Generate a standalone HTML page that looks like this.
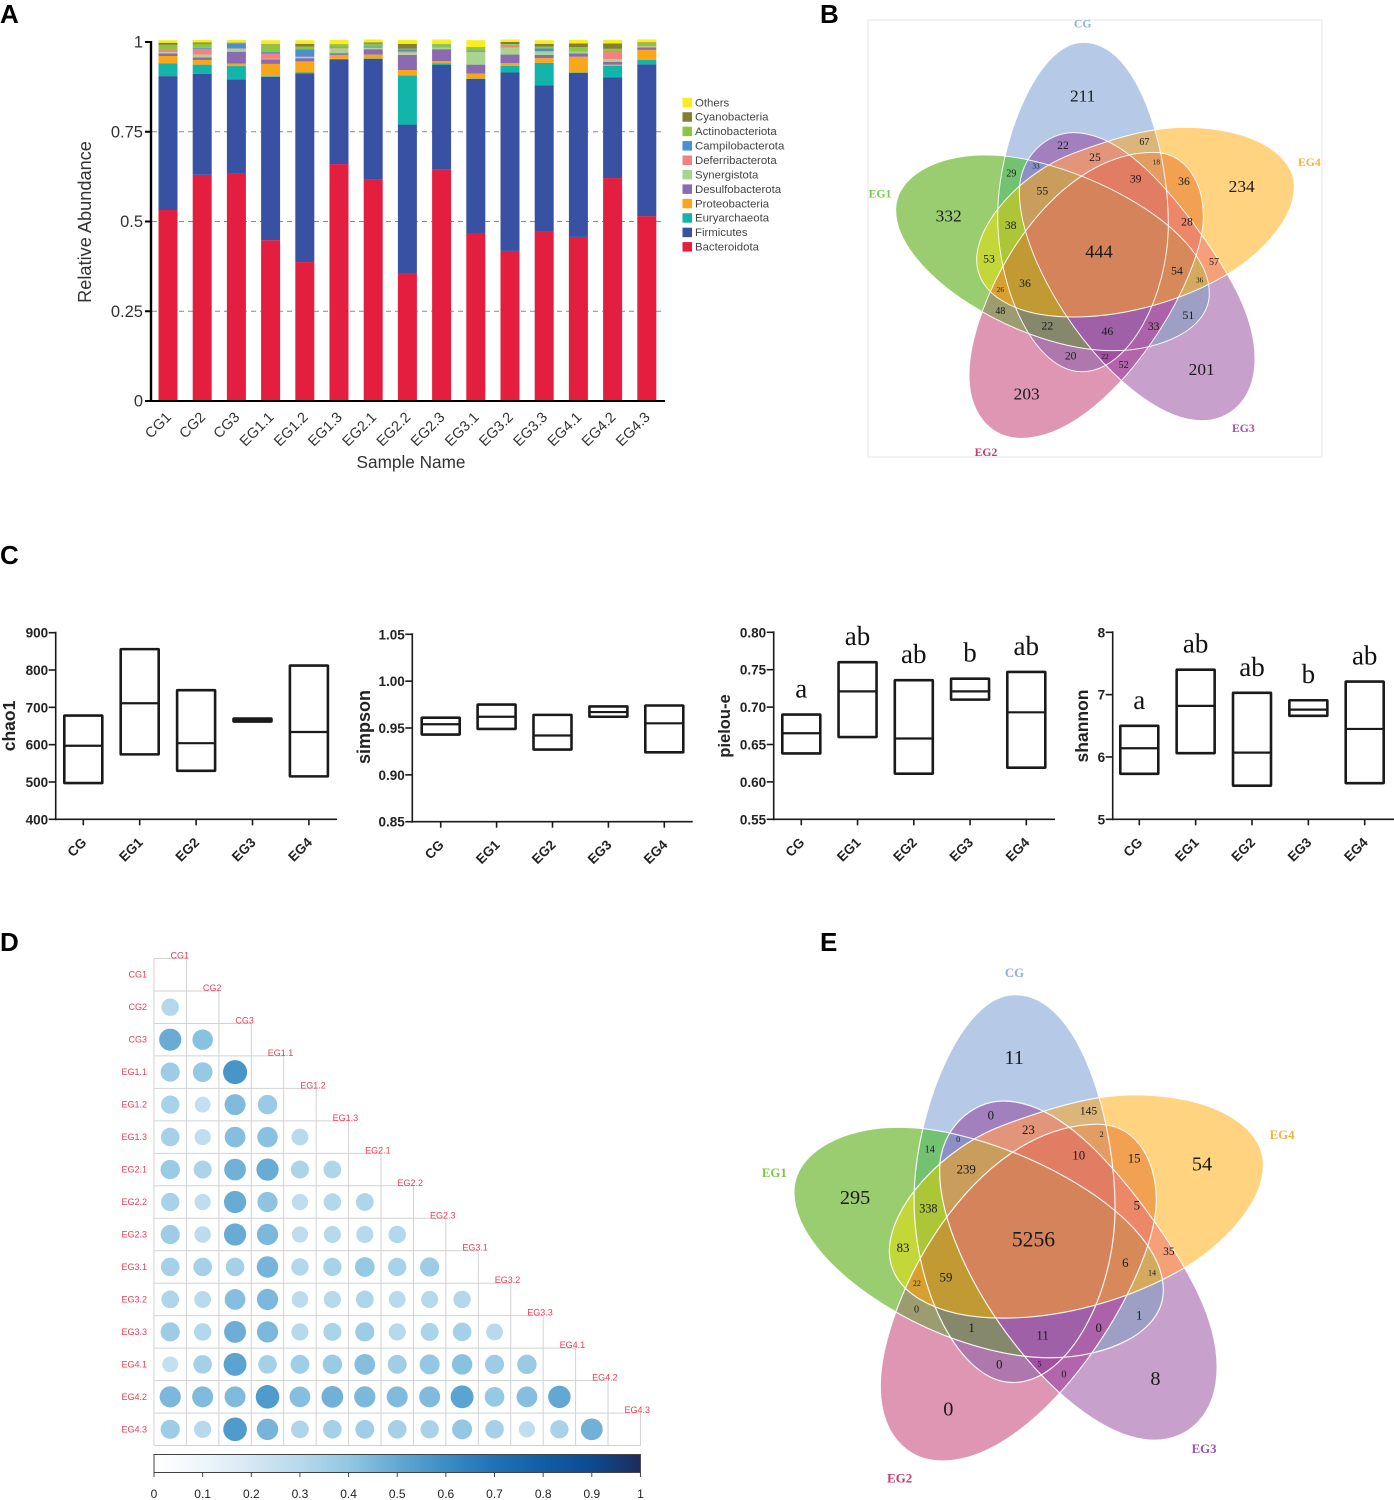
<!DOCTYPE html>
<html lang="en">
<head>
<meta charset="utf-8">
<title>Microbial community figure</title>
<style>
html,body{margin:0;padding:0;background:#fff;}
#figure{position:absolute;left:0;top:0;display:block;}
text{font-family:"Liberation Sans",sans-serif;}
.venn text{font-family:"Liberation Serif",serif;text-anchor:middle;dominant-baseline:central;fill:#1a1a1a;}
.venn .name{font-weight:bold;}
.letter{font-family:"Liberation Sans",sans-serif;font-weight:bold;font-size:26px;fill:#000;}
</style>
</head>
<body>
<svg id="figure" xmlns="http://www.w3.org/2000/svg" width="1394" height="1500" viewBox="0 0 1394 1500">
  <defs id="defs">
    <linearGradient id="blues" x1="0" x2="1" y1="0" y2="0">
      <stop offset="0" stop-color="#ffffff"/><stop offset=".1" stop-color="#eef6fc"/><stop offset=".2" stop-color="#d6e7f5"/>
      <stop offset=".3" stop-color="#b6d9ec"/><stop offset=".4" stop-color="#93c7e3"/><stop offset=".5" stop-color="#63a8d3"/>
      <stop offset=".6" stop-color="#3b8dc5"/><stop offset=".7" stop-color="#2171b5"/><stop offset=".8" stop-color="#125ea6"/>
      <stop offset=".9" stop-color="#0d4a90"/><stop offset="1" stop-color="#1d2c5c"/>
    </linearGradient>
  </defs>

  <text class="letter" x="0" y="23">A</text>
  <text class="letter" x="820" y="23">B</text>
  <text class="letter" x="0" y="564">C</text>
  <text class="letter" x="0" y="951">D</text>
  <text class="letter" x="820" y="951">E</text>

  <g id="panelA"></g>
  <g id="panelC"></g>
  <g id="panelD"></g>

  <rect x="868" y="20" width="454" height="437" fill="none" stroke="#e6e6e6" stroke-width="1"/>

  <g class="venn" transform="translate(860 10) scale(0.33333)">
    <g id="vennShapesB"></g>
    <text class="name" x="668" y="42" font-size="35" style="fill:#8fb0e0">CG</text>
    <text class="name" x="60" y="552" font-size="35" style="fill:#7ac943">EG1</text>
    <text class="name" x="1348" y="457" font-size="35" style="fill:#fbb040">EG4</text>
    <text class="name" x="1150" y="1255" font-size="35" style="fill:#a050b0">EG3</text>
    <text class="name" x="378" y="1328" font-size="35" style="fill:#c8386e">EG2</text>
    <g>
      <text x="668" y="258" font-size="52">211</text>
      <text x="266" y="618" font-size="52">332</text>
      <text x="1145" y="530" font-size="52">234</text>
      <text x="1025" y="1078" font-size="52">201</text>
      <text x="500" y="1152" font-size="52">203</text>
      <text x="717" y="725" font-size="55">444</text>
      <text x="609" y="407" font-size="35">22</text>
      <text x="853" y="397" font-size="30">67</text>
      <text x="528" y="468" font-size="22">33</text>
      <text x="705" y="443" font-size="35">25</text>
      <text x="889" y="456" font-size="22">18</text>
      <text x="827" y="507" font-size="35">39</text>
      <text x="972" y="514" font-size="35">36</text>
      <text x="454" y="492" font-size="30">29</text>
      <text x="547" y="543" font-size="35">55</text>
      <text x="452" y="647" font-size="35">38</text>
      <text x="981" y="636" font-size="35">28</text>
      <text x="387" y="747" font-size="35">53</text>
      <text x="1062" y="757" font-size="30">57</text>
      <text x="951" y="783" font-size="35">54</text>
      <text x="1019" y="810" font-size="22">36</text>
      <text x="421" y="838" font-size="22">26</text>
      <text x="495" y="821" font-size="35">36</text>
      <text x="421" y="904" font-size="30">48</text>
      <text x="562" y="948" font-size="35">22</text>
      <text x="742" y="965" font-size="35">46</text>
      <text x="881" y="950" font-size="35">33</text>
      <text x="985" y="917" font-size="35">51</text>
      <text x="632" y="1038" font-size="35">20</text>
      <text x="735" y="1040" font-size="22">22</text>
      <text x="791" y="1067" font-size="30">52</text>
    </g>
  </g>

  <g class="venn" transform="translate(750 960) scale(0.33784)">
    <g id="vennShapesE" transform="translate(5.7 -10.2) scale(1.162)"></g>
    <text class="name" x="783" y="38" font-size="38" style="fill:#8fb0e0">CG</text>
    <text class="name" x="72" y="630" font-size="38" style="fill:#7ac943">EG1</text>
    <text class="name" x="1575" y="518" font-size="38" style="fill:#fbb040">EG4</text>
    <text class="name" x="1344" y="1447" font-size="38" style="fill:#a050b0">EG3</text>
    <text class="name" x="443" y="1535" font-size="38" style="fill:#c8386e">EG2</text>
    <g>
      <text x="782" y="290" font-size="60">11</text>
      <text x="1338" y="605" font-size="60">54</text>
      <text x="311" y="705" font-size="60">295</text>
      <text x="587" y="1330" font-size="60">0</text>
      <text x="1200" y="1240" font-size="60">8</text>
      <text x="839" y="828" font-size="64">5256</text>
      <text x="713" y="460" font-size="38">0</text>
      <text x="1002" y="449" font-size="34">145</text>
      <text x="616" y="532" font-size="24">0</text>
      <text x="824" y="503" font-size="38">23</text>
      <text x="1041" y="517" font-size="24">2</text>
      <text x="532" y="562" font-size="30">14</text>
      <text x="973" y="578" font-size="38">10</text>
      <text x="1137" y="587" font-size="38">15</text>
      <text x="640" y="620" font-size="38">239</text>
      <text x="528" y="735" font-size="36">338</text>
      <text x="1145" y="726" font-size="38">5</text>
      <text x="453" y="852" font-size="38">83</text>
      <text x="1240" y="865" font-size="34">35</text>
      <text x="1111" y="897" font-size="38">6</text>
      <text x="1190" y="927" font-size="24">14</text>
      <text x="494" y="958" font-size="24">22</text>
      <text x="580" y="940" font-size="38">59</text>
      <text x="493" y="1036" font-size="30">0</text>
      <text x="656" y="1090" font-size="38">1</text>
      <text x="866" y="1112" font-size="38">11</text>
      <text x="1032" y="1090" font-size="38">0</text>
      <text x="1152" y="1052" font-size="38">1</text>
      <text x="738" y="1197" font-size="38">0</text>
      <text x="857" y="1196" font-size="24">5</text>
      <text x="929" y="1228" font-size="30">0</text>
    </g>
  </g>
</svg>

<script>
// ---------- Panel A data (percent of reads) ----------
const sampleNames = ['CG1','CG2','CG3','EG1.1','EG1.2','EG1.3','EG2.1','EG2.2','EG2.3','EG3.1','EG3.2','EG3.3','EG4.1','EG4.2','EG4.3'];
const phylumNames = ['Bacteroidota','Firmicutes','Euryarchaeota','Proteobacteria','Desulfobacterota','Synergistota','Deferribacterota','Campilobacterota','Actinobacteriota','Cyanobacteria','Others'];
const phylumColors = ['#e31e3f','#3851a3','#13b5ab','#faa61a','#8a6bb1','#a8d58e','#f58080','#4a90d0','#8cc63f','#808033','#f7ee1f'];
const bacteroidota = [53.2,63.0,63.5,44.8,38.7,66.0,61.6,35.4,64.6,46.8,41.8,47.1,45.7,62.1,51.5];
const firmicutes = [37.3,28.1,26.1,45.5,52.6,29.2,33.7,41.6,29.0,42.9,49.7,40.8,45.7,28.1,42.3];
const euryarchaeota = [3.6,2.6,3.7,0.2,0.2,0.1,0.1,13.7,0.5,0.1,1.9,6.3,0.1,3.2,1.2];
const proteobacteria = [2.0,1.3,0.7,3.4,3.1,1.1,1.1,1.5,0.6,1.4,0.7,1.3,4.4,0.3,2.8];
const desulfobacterota = [0.7,0.7,3.3,1.3,0.9,0.5,1.5,4.2,3.3,2.5,2.4,0.9,0.9,0.8,0.7];
const synergistota = [0.4,0.8,0.8,0.1,0.3,1.3,0.3,0.7,0.4,3.5,1.9,0.9,0.5,0.7,0.3];
const deferribacterota = [0.7,1.6,0.1,1.4,0.1,0.1,0.2,0.2,0.2,0.1,0.7,0.1,0.1,2.2,0.1];
const campilobacterota = [0.1,0.3,1.4,0.5,2.1,0.2,0.3,0.7,0.1,0.3,0.1,0.8,0.1,0.1,0.1];
const actinobacteriota = [1.2,1.1,0.2,2.0,0.7,0.8,0.7,0.1,0.7,0.7,0.2,0.5,1.1,0.6,0.7];
const cyanobacteria = [0.6,0.4,0.1,0.2,0.8,0.1,0.4,1.4,0.1,0.2,0.6,0.8,1.0,1.5,0.2];
const others = [0.7,0.7,0.7,1.1,1.0,1.2,0.8,1.1,1.2,2.0,0.7,1.0,1.0,1.0,0.8];
const phylumValues = [bacteroidota,firmicutes,euryarchaeota,proteobacteria,desulfobacterota,synergistota,deferribacterota,campilobacterota,actinobacteriota,cyanobacteria,others];
const abundanceTicks = [0,0.25,0.5,0.75,1];

// ---------- Panel C data ----------
const groupNames = ['CG','EG1','EG2','EG3','EG4'];
const chaoTicks = [400,500,600,700,800,900];
const chaoLow = [497,574,530,662,515];
const chaoMedian = [597,711,604,666,634];
const chaoHigh = [678,856,746,670,812];
const simpsonTicks = [0.85,0.90,0.95,1.00,1.05];
const simpsonLow = [0.943,0.949,0.927,0.962,0.924];
const simpsonMedian = [0.954,0.962,0.942,0.967,0.955];
const simpsonHigh = [0.961,0.975,0.964,0.973,0.974];
const pielouTicks = [0.55,0.60,0.65,0.70,0.75,0.80];
const pielouLow = [0.638,0.660,0.611,0.710,0.619];
const pielouMedian = [0.665,0.721,0.658,0.721,0.693];
const pielouHigh = [0.690,0.760,0.736,0.738,0.747];
const shannonTicks = [5,6,7,8];
const shannonLow = [5.73,6.06,5.54,6.66,5.58];
const shannonMedian = [6.14,6.82,6.07,6.76,6.45];
const shannonHigh = [6.50,7.40,7.03,6.91,7.21];
const significanceLetters = ['a','ab','ab','b','ab'];

// ---------- Panel D data (lower triangle, row by row) ----------
const corrLabels = ['CG1','CG2','CG3','EG1.1','EG1.2','EG1.3','EG2.1','EG2.2','EG2.3','EG3.1','EG3.2','EG3.3','EG4.1','EG4.2','EG4.3'];
const corrValues = [
  [],
  [.29],
  [.47,.40],
  [.35,.37,.55],
  [.32,.24,.42,.36],
  [.33,.25,.41,.40,.27],
  [.36,.31,.45,.47,.31,.30],
  [.32,.25,.47,.39,.25,.29,.30],
  [.35,.26,.47,.43,.25,.28,.28,.29],
  [.33,.33,.33,.44,.29,.32,.37,.32,.35],
  [.30,.27,.41,.43,.26,.28,.30,.27,.28,.29],
  [.35,.29,.46,.43,.28,.31,.35,.28,.31,.33,.27],
  [.24,.33,.50,.33,.34,.36,.41,.34,.38,.40,.35,.36],
  [.43,.42,.42,.53,.41,.45,.43,.42,.42,.50,.37,.41,.48],
  [.35,.28,.53,.44,.30,.33,.34,.33,.32,.38,.33,.25,.32,.45]
];
const colorbarTicks = [0,0.1,0.2,0.3,0.4,0.5,0.6,0.7,0.8,0.9,1];
const bluesPalette = ['#ffffff','#eef6fc','#d6e7f5','#b6d9ec','#93c7e3','#63a8d3','#3b8dc5','#2171b5','#125ea6','#0d4a90','#1d2c5c'];

// ---------- Venn region membership and fills (shared by panels B and E) ----------
const vennSets = ['CG','EG1','EG2','EG3','EG4'];
const vennRegions = [
  ['CG','#b6c9e7'],['EG1','#9acd70'],['EG2','#de96b2'],['EG3','#c8a0cc'],['EG4','#ffd37f'],
  ['CG EG1','#72c272'],['CG EG2','#ae78ad'],['CG EG3','#a180bd'],['CG EG4','#dcb57a'],
  ['EG1 EG2','#9c9c70'],['EG1 EG3','#9da0c4'],['EG1 EG4','#c3d838'],
  ['EG2 EG3','#b365ab'],['EG2 EG4','#f2a153'],['EG3 EG4','#f5a078'],
  ['CG EG1 EG2','#85886a'],['CG EG1 EG3','#8c90c4'],['CG EG1 EG4','#adc638'],
  ['CG EG2 EG3','#a14fa0'],['CG EG2 EG4','#e39d62'],['CG EG3 EG4','#e2957a'],
  ['EG1 EG2 EG3','#ab62a8'],['EG1 EG2 EG4','#d8a030'],['EG1 EG3 EG4','#d3aa5e'],['EG2 EG3 EG4','#ec8768'],
  ['CG EG1 EG2 EG3','#9f60a8'],['CG EG1 EG2 EG4','#c29a33'],['CG EG1 EG3 EG4','#c99d5c'],
  ['CG EG2 EG3 EG4','#e07d62'],['EG1 EG2 EG3 EG4','#d8895a'],['CG EG1 EG2 EG3 EG4','#d4835a']
];

const NS = 'http://www.w3.org/2000/svg';
function make(parent, tag, attrs, text) {
  const el = document.createElementNS(NS, tag);
  for (const k in attrs) el.setAttribute(k, attrs[k]);
  if (text !== undefined) el.textContent = text;
  parent.appendChild(el);
  return el;
}

// ---------- Venn geometry ----------
const petalOutlines = {
  CG: 'M670,97 C528,97 413,408 413,618 C413,848 528,1085 665,1085 C808,1085 925,858 925,640 C925,430 840,97 670,97 Z',
  EG4: 'M975,352 C1170,352 1303,430 1303,530 C1303,640 1180,745 1115,785 C960,880 780,921 640,921 C460,921 350,850 350,750 C350,640 480,490 640,430 C760,385 870,352 975,352 Z',
  EG1: 'M107,600 C107,500 230,435 370,435 C610,430 1048,640 1048,850 C1048,960 900,1022 760,1022 C480,1022 107,790 107,600 Z',
  EG2: 'M485,1285 C390,1285 327,1210 327,1095 C327,880 560,430 880,427 C980,427 1030,520 1030,620 C1030,820 740,1285 485,1285 Z',
  EG3: 'M640,368 C760,368 880,480 1000,640 C1110,790 1185,920 1185,1045 C1185,1170 1110,1232 1025,1232 C800,1232 478,800 478,545 C478,440 560,368 640,368 Z'
};
const defs = document.getElementById('defs');
vennSets.forEach(name => {
  const clip = make(defs, 'clipPath', {id:'clip-' + name});
  make(clip, 'path', {d:petalOutlines[name]});
});
function buildVenn(groupId) {
  const host = document.getElementById(groupId);
  vennRegions.forEach(region => {
    let parent = host;
    region[0].split(' ').forEach(name => {
      parent = make(parent, 'g', {'clip-path':'url(#clip-' + name + ')'});
    });
    const fill = make(parent, 'rect', {x:0, y:0, width:1500, height:1500, fill:region[1]});
    
    
  });
  vennSets.forEach(name => {
    const outline = make(host, 'path', {d:petalOutlines[name], fill:'none', stroke:'#fff', 'stroke-width':3, 'stroke-opacity':0.92});
    
    
  });
}
buildVenn('vennShapesB');
buildVenn('vennShapesE');

// ---------- Panel A ----------
const panelA = document.getElementById('panelA');
const yAbundance = v => 401 - 359 * v;
const xSample = i => 168 + 34.2 * i;

abundanceTicks.forEach(t => {
  if (t > 0 && t < 1) {
    const grid = make(panelA, 'line', {x1:152, x2:665, y1:yAbundance(t), y2:yAbundance(t), stroke:'#8a8a8a', 'stroke-width':1, 'stroke-dasharray':'5 4'});
    
    
  }
  const tick = make(panelA, 'line', {x1:145, x2:152, y1:yAbundance(t), y2:yAbundance(t), stroke:'#000', 'stroke-width':2});
  
  
  const label = make(panelA, 'text', {x:143, y:yAbundance(t) + 5.5, 'text-anchor':'end', 'font-size':16.5, fill:'#333'}, String(t));
  
  
});

sampleNames.forEach((name, i) => {
  let cumulative = 0;
  phylumValues.forEach((series, s) => {
    const start = cumulative;
    cumulative += series[i] / 100;
    const bar = make(panelA, 'rect', {x:xSample(i) - 9.5, width:19, y:yAbundance(cumulative), height:yAbundance(start) - yAbundance(cumulative), fill:phylumColors[s]});
    
    
  });
  const label = make(panelA, 'text', {'text-anchor':'end', 'font-size':14.5, fill:'#333', transform:'translate(' + (xSample(i) + 4) + ' 418) rotate(-45)'}, name);
  
  
});

const axisAY = make(panelA, 'line', {x1:151, x2:151, y1:41, y2:402, stroke:'#000', 'stroke-width':2.4});


const axisAX = make(panelA, 'line', {x1:150, x2:665, y1:401, y2:401, stroke:'#000', 'stroke-width':2});


const titleAY = make(panelA, 'text', {'text-anchor':'middle', 'font-size':18.2, fill:'#333', transform:'translate(91 222) rotate(-90)'}, 'Relative Abundance');


const titleAX = make(panelA, 'text', {x:411, y:468, 'text-anchor':'middle', 'font-size':17.2, fill:'#333'}, 'Sample Name');



phylumNames.slice().reverse().forEach((name, i) => {
  const y = 102.3 + 14.43 * i;
  const swatch = make(panelA, 'rect', {x:682.5, y:y - 4.5, width:9.5, height:9.5, fill:phylumColors[phylumNames.length - 1 - i]});
  
  
  const label = make(panelA, 'text', {x:695, y:y + 4, 'font-size':11.4, fill:'#444'}, name);
  
  
});

// ---------- Panel C ----------
const panelC = document.getElementById('panelC');
function boxPanel(key, title, ticks, low, median, high, tickFormat, box, letters) {
  const panel = make(panelC, 'g', {});
  
  
  const minV = ticks[0], maxV = ticks[ticks.length - 1];
  const y = v => box.bottom - (v - minV) / (maxV - minV) * (box.bottom - box.top);
  const x = i => box.firstTick + box.tickStep * i;
  const yAxis = make(panel, 'line', {x1:box.left, x2:box.left, y1:box.top - 1, y2:box.bottom + 1, stroke:'#1a1a1a', 'stroke-width':1.6});
  
  
  const xAxis = make(panel, 'line', {x1:box.left, x2:box.right, y1:box.bottom, y2:box.bottom, stroke:'#1a1a1a', 'stroke-width':1.6});
  
  
  ticks.forEach(t => {
    const tick = make(panel, 'line', {x1:box.left - 7, x2:box.left, y1:y(t), y2:y(t), stroke:'#1a1a1a', 'stroke-width':1.6});
    
    
    const label = make(panel, 'text', {x:box.left - 7.5, y:y(t) + 5, 'text-anchor':'end', 'font-size':13.5, 'font-weight':'bold', fill:'#222'}, tickFormat(t));
    
    
  });
  groupNames.forEach((name, i) => {
    const tick = make(panel, 'line', {x1:x(i), x2:x(i), y1:box.bottom, y2:box.bottom + 6, stroke:'#1a1a1a', 'stroke-width':1.6});
    
    
    const label = make(panel, 'text', {'text-anchor':'end', 'font-size':13.5, 'font-weight':'bold', fill:'#222', transform:'translate(' + (x(i) + 4) + ' ' + (box.bottom + 24) + ') rotate(-45)'}, name);
    
    
    const rect = make(panel, 'rect', {x:x(i) - 19, width:38, y:y(high[i]), height:y(low[i]) - y(high[i]), fill:'none', stroke:'#1a1a1a', 'stroke-width':2.6, rx:0.5});
    
    
    const med = make(panel, 'line', {x1:x(i) - 19, x2:x(i) + 19, y1:y(median[i]), y2:y(median[i]), stroke:'#1a1a1a', 'stroke-width':2.2});
    
    
    if (letters) {
      const sig = make(panel, 'text', {x:x(i), y:y(high[i]) - 17, 'text-anchor':'middle', 'font-size':27, fill:'#111', style:'font-family:"Liberation Serif",serif'}, letters[i]);
      
      
    }
  });
  const t = make(panel, 'text', {'text-anchor':'middle', 'font-size':box.titleSize, 'font-weight':'bold', fill:'#222', transform:'translate(' + box.titleX + ' ' + box.titleY + ') rotate(-90)'}, title);
  
  
}
boxPanel('chao1', 'chao1', chaoTicks, chaoLow, chaoMedian, chaoHigh, String,
  {left:55.7, right:337, top:632.7, bottom:819.3, firstTick:83.3, tickStep:56.4, titleX:15, titleY:726, titleSize:17.5});
boxPanel('simpson', 'simpson', simpsonTicks, simpsonLow, simpsonMedian, simpsonHigh, v => v.toFixed(2),
  {left:412.3, right:692.7, top:634.3, bottom:821.7, firstTick:440.7, tickStep:55.9, titleX:370, titleY:727, titleSize:18});
boxPanel('pielou', 'pielou-e', pielouTicks, pielouLow, pielouMedian, pielouHigh, v => v.toFixed(2),
  {left:773.7, right:1055, top:632.3, bottom:819.3, firstTick:801.3, tickStep:56.25, titleX:730, titleY:726, titleSize:16.5}, significanceLetters);
boxPanel('shannon', 'shannon', shannonTicks, shannonLow, shannonMedian, shannonHigh, String,
  {left:1112.7, right:1394, top:632.3, bottom:819.3, firstTick:1139.3, tickStep:56.35, titleX:1088, titleY:726, titleSize:17.5}, significanceLetters);

// ---------- Panel D ----------
const panelD = document.getElementById('panelD');
const cellW = 32.43, cellH = 32.47, gridL = 154, gridT = 958.5;
const xCol = j => gridL + cellW * j;
const yRow = i => gridT + cellH * i;
function blues(v) {
  const p = Math.max(0, Math.min(1, v)) * (bluesPalette.length - 1);
  const a = Math.floor(p), b = Math.min(a + 1, bluesPalette.length - 1), f = p - a;
  const ch = (hex, k) => parseInt(hex.substr(1 + 2 * k, 2), 16);
  return 'rgb(' + [0,1,2].map(k => Math.round(ch(bluesPalette[a], k) * (1 - f) + ch(bluesPalette[b], k) * f)).join(',') + ')';
}
const n = corrLabels.length;
for (let i = 0; i <= n; i++) {
  const h = make(panelD, 'line', {x1:gridL, x2:xCol(Math.min(i + 1, n)), y1:yRow(i), y2:yRow(i), stroke:'#d2d2d2', 'stroke-width':1});
  
  
  const v = make(panelD, 'line', {x1:xCol(i), x2:xCol(i), y1:yRow(Math.max(i - 1, 0)), y2:yRow(n), stroke:'#d2d2d2', 'stroke-width':1});
  
  
}
corrLabels.forEach((name, i) => {
  const rowLabel = make(panelD, 'text', {x:147, y:yRow(i) + cellH / 2 + 3, 'text-anchor':'end', 'font-size':9, fill:'#ef3b4f'}, name);
  
  
  const colLabel = make(panelD, 'text', {x:xCol(i) + 16.5, y:yRow(i), 'font-size':9, fill:'#ef3b4f'}, name);
  
  
});
corrValues.forEach((row, i) => {
  row.forEach((value, j) => {
    const c = make(panelD, 'circle', {cx:xCol(j) + cellW / 2, cy:yRow(i) + cellH / 2, r:16.2 * Math.sqrt(value), fill:blues(value + 0.02)});
    
    
  });
});
const cbar = make(panelD, 'rect', {x:gridL, y:1454.5, width:cellW * n, height:18, fill:'url(#blues)', stroke:'#444', 'stroke-width':1});


colorbarTicks.forEach(t => {
  const x = gridL + cellW * n * t;
  const tick = make(panelD, 'line', {x1:x, x2:x, y1:1472.5, y2:1477, stroke:'#444', 'stroke-width':1});
  
  
  const label = make(panelD, 'text', {x:x, y:1498, 'text-anchor':'middle', 'font-size':12, fill:'#222'}, String(t));
  
  
});
</script>
</body>
</html>
